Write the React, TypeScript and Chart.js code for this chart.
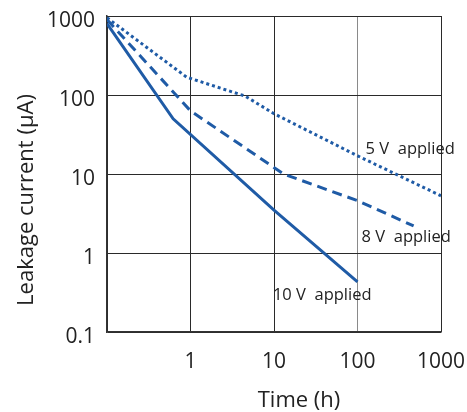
import React, { useEffect, useRef } from "react";
import { Chart, registerables } from "chart.js";

Chart.register(...registerables);

// ---- data ----
const xTickValues = [0.1, 1, 10, 100, 1000];
const yTickValues = [0.1, 1, 10, 100, 1000];

const seriesNames = ["5 V  applied", "8 V  applied", "10 V  applied"];

const time5V = [0.1, 0.9, 4.5, 10, 100, 1000];
const current5V = [950, 168, 97, 58, 17, 5.3];

const time8V = [0.1, 1, 13, 100, 470];
const current8V = [900, 63, 10, 4.6, 2.2];

const time10V = [0.1, 0.62, 10, 100];
const current10V = [800, 50, 3.5, 0.43];

// label anchors (data coordinates: time, current)
const labelTime = [125, 112, 9.7];
const labelCurrent = [20.5, 1.6, 0.294];

const xTitle = "Time (h)";
const yTitle = "Leakage current (μA)";

const FONT = "'Open Sans', 'Noto Sans', sans-serif";
const TEXT = "#222222";
const LINE = "#1f5ba6";

const toPoints = (xs: number[], ys: number[]) => xs.map((x, i) => ({ x, y: ys[i] }));

export default function App() {
  const ref = useRef<HTMLCanvasElement | null>(null);

  useEffect(() => {
    if (!ref.current) return;

    const annotPlugin = {
      id: "annot",
      afterDatasetsDraw(chart: any) {
        const { ctx, scales } = chart;
        ctx.save();
        ctx.fillStyle = TEXT;
        ctx.font = `16.5px ${FONT}`;
        ctx.textAlign = "left";
        ctx.textBaseline = "middle";
        seriesNames.forEach((t, i) => {
          const px = scales.x.getPixelForValue(labelTime[i]);
          const py = scales.y.getPixelForValue(labelCurrent[i]);
          ctx.fillText(t, px, py);
        });
        // axis titles
        ctx.font = `22px ${FONT}`;
        ctx.textAlign = "center";
        ctx.textBaseline = "middle";
        ctx.fillText(xTitle, 299, 401);
        ctx.translate(27, 200);
        ctx.rotate(-Math.PI / 2);
        ctx.fillText(yTitle, 0, 0);
        ctx.restore();
      },
    };

    const chart = new Chart(ref.current, {
      type: "line",
      data: {
        datasets: [
          {
            label: seriesNames[0],
            data: toPoints(time5V, current5V),
            borderColor: LINE,
            borderWidth: 3,
            borderDash: [3, 3],
            pointRadius: 0,
            tension: 0,
          },
          {
            label: seriesNames[1],
            data: toPoints(time8V, current8V),
            borderColor: LINE,
            borderWidth: 3,
            borderDash: [10, 6],
            pointRadius: 0,
            tension: 0,
          },
          {
            label: seriesNames[2],
            data: toPoints(time10V, current10V),
            borderColor: LINE,
            borderWidth: 3,
            pointRadius: 0,
            tension: 0,
          },
        ],
      },
      options: {
        animation: false,
        responsive: true,
        maintainAspectRatio: false,
        layout: { padding: { top: 16, right: 26, left: 0, bottom: 0 } },
        plugins: { legend: { display: false }, tooltip: { enabled: false } },
        scales: {
          x: {
            type: "logarithmic",
            min: 0.1,
            max: 1000,
            afterBuildTicks: (s: any) => {
              s.ticks = xTickValues.map((v) => ({ value: v }));
            },
            afterFit: (s: any) => {
              s.height = 80;
              s.paddingLeft = 0;
              s.paddingRight = 0;
            },
            ticks: {
              autoSkip: false,
              maxRotation: 0,
              padding: 17,
              color: TEXT,
              font: { family: FONT, size: 21 },
              callback: (v: any) => (v === 0.1 ? "" : String(v)),
            },
            grid: {
              drawTicks: false,
              lineWidth: 1,
              color: (c: any) => (c.tick && c.tick.value === 100 ? "#8a8a8a" : "#2a2a2a"),
            },
            border: { color: "#333", width: 1.5 },
          },
          y: {
            type: "logarithmic",
            min: 0.1,
            max: 1000,
            afterBuildTicks: (s: any) => {
              s.ticks = yTickValues.map((v) => ({ value: v }));
            },
            afterFit: (s: any) => {
              s.width = 107;
              s.paddingTop = 0;
              s.paddingBottom = 0;
            },
            ticks: {
              autoSkip: false,
              padding: 12,
              labelOffset: 5,
              color: TEXT,
              font: { family: FONT, size: 21 },
              callback: (v: any) => String(v),
            },
            grid: { drawTicks: false, lineWidth: 1, color: "#2a2a2a" },
            border: { color: "#333", width: 1.5 },
          },
        },
      },
      plugins: [annotPlugin],
    });

    return () => chart.destroy();
  }, []);

  return (
    <div style={{ position: "fixed", left: 0, top: 0, width: 467, height: 412, background: "#fff" }}>
      <canvas ref={ref} />
    </div>
  );
}
